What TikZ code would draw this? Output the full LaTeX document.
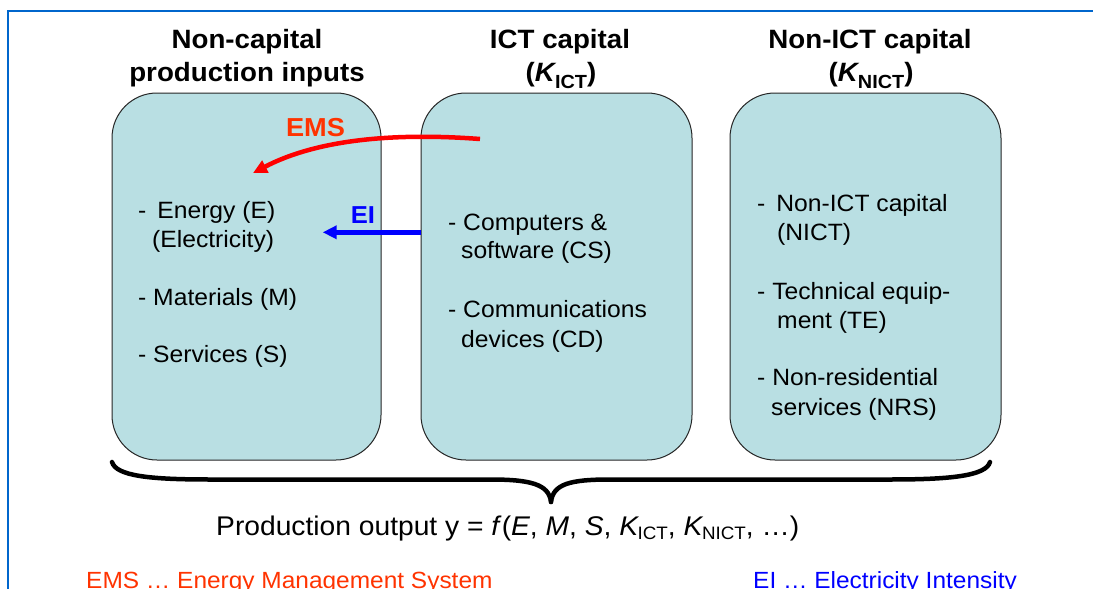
\documentclass[tikz,border=0pt]{standalone}
\usepackage{fontspec}
\setmainfont{Liberation Sans}[FakeStretch=1.045]
\usetikzlibrary{arrows.meta}
\definecolor{boxfill}{HTML}{B9DFE3}
\definecolor{framecol}{HTML}{0066CC}
\definecolor{emsred}{HTML}{FF3300}
\definecolor{arrred}{HTML}{FF0000}
\definecolor{eiblue}{HTML}{0000FF}
\newcommand{\fs}[1]{\fontsize{#1}{#1}\selectfont}
\newcommand{\subtxt}[3]{\kern-1.5pt\raisebox{-#1}{\fs{#2}#3}}
\begin{document}
\begin{tikzpicture}[x=1pt,y=-1pt,
  box/.style={draw=black!85, line width=1pt, fill=boxfill, rounded corners=45pt,
    minimum width=#1, minimum height=367pt, inner sep=0pt},
  ttl/.style={font=\fs{26.5}\bfseries, inner sep=0pt, anchor=base},
  item/.style={font=\fs{23.6}, inner sep=0pt, anchor=base west},
  arr/.style={line width=4.5pt, -{Triangle[length=14pt,width=13pt]}},
  brace/.style={line width=4.5pt, line cap=round}]
\clip (0,0) rectangle (1093,589);
\fill[white] (0,0) rectangle (1093,589);
% frame
\draw[framecol, line width=2pt] (8,11) rectangle (1130,640);
% boxes
\node[box=269pt] (b1) at (246.5,276.5) {};
\node[box=271pt] (b2) at (556.5,276.5) {};
\node[box=271pt] (b3) at (865.5,276.5) {};
% titles
\node[ttl] (t1a) at (247,48) {Non-capital};
\node[ttl] (t1b) at (247,81) {production inputs};
\node[ttl] (t2a) at (560,48) {ICT capital};
\node[ttl] (t2b) at (561,81) {(\textit{K}\subtxt{7pt}{19}{ICT})};
\node[ttl] (t3a) at (870,48) {Non-ICT capital};
\node[ttl] (t3b) at (871,81) {(\textit{K}\subtxt{7pt}{19}{NICT})};
% box 1 items
\node[item] (e1) at (138,218) {-\hspace{11pt}Energy (E)};
\node[item] (e2) at (152,247) {(Electricity)};
\node[item] (m1) at (138,305) {- Materials (M)};
\node[item] (s1) at (138,362) {- Services (S)};
% box 2 items
\node[item] (c1) at (448,230) {- Computers \&};
\node[item] (c2) at (461,258) {software (CS)};
\node[item] (d1) at (448,317) {- Communications};
\node[item] (d2) at (461,347) {devices (CD)};
% box 3 items
\node[item] (n1) at (757,211) {-\hspace{11pt}Non-ICT capital};
\node[item] (n2) at (777,240) {(NICT)};
\node[item] (te1) at (757,299) {- Technical equip-};
\node[item] (te2) at (777,328) {ment (TE)};
\node[item] (r1) at (757,385) {- Non-residential};
\node[item] (r2) at (771,415) {services (NRS)};
% arrows
\coordinate (emsS) at (480,139);
\coordinate (emsE) at (253,173);
\coordinate (eiS) at (421,232.3);
\coordinate (eiE) at (322.7,232.3);
\draw[arr, arrred] (emsS) .. controls (400,133) and (320,138) .. (emsE);
\draw[arr, eiblue] (eiS) -- (eiE);
\node[font=\fs{26}\bfseries, text=emsred, inner sep=0pt] (emsl) at (315.5,127.5) {EMS};
\node[font=\fs{24.5}\bfseries, text=eiblue, inner sep=0pt] (eil) at (363,214.7) {EI};
% brace
\coordinate (brL) at (112,462);
\coordinate (brR) at (990,462);
\coordinate (brT) at (551,502);
\draw[brace] (brL) .. controls (116,476) and (150,479.5) .. (210,479.5) -- (490,479.5)
  .. controls (530,479.5) and (549,484) .. (brT);
\draw[brace] (brR) .. controls (986,476) and (950,479.5) .. (890,479.5) -- (610,479.5)
  .. controls (570,479.5) and (553,484) .. (brT);
% output
\node[font=\fs{27}, inner sep=0pt, anchor=base west] (out) at (216,535)
  {Production output y = \textit{f}(\textit{E}, \textit{M}, \textit{S}, \textit{K}\subtxt{4pt}{18}{ICT}, \textit{K}\subtxt{4pt}{18}{NICT}, …)};
% legend
\node[font=\fs{23.4}, text=emsred, inner sep=0pt, anchor=base west] (legems) at (86,588) {EMS … Energy Management System};
\node[font=\fs{23.4}, text=eiblue, inner sep=0pt, anchor=base west] (legei) at (753,588) {EI … Electricity Intensity};
\end{tikzpicture}
\end{document}
